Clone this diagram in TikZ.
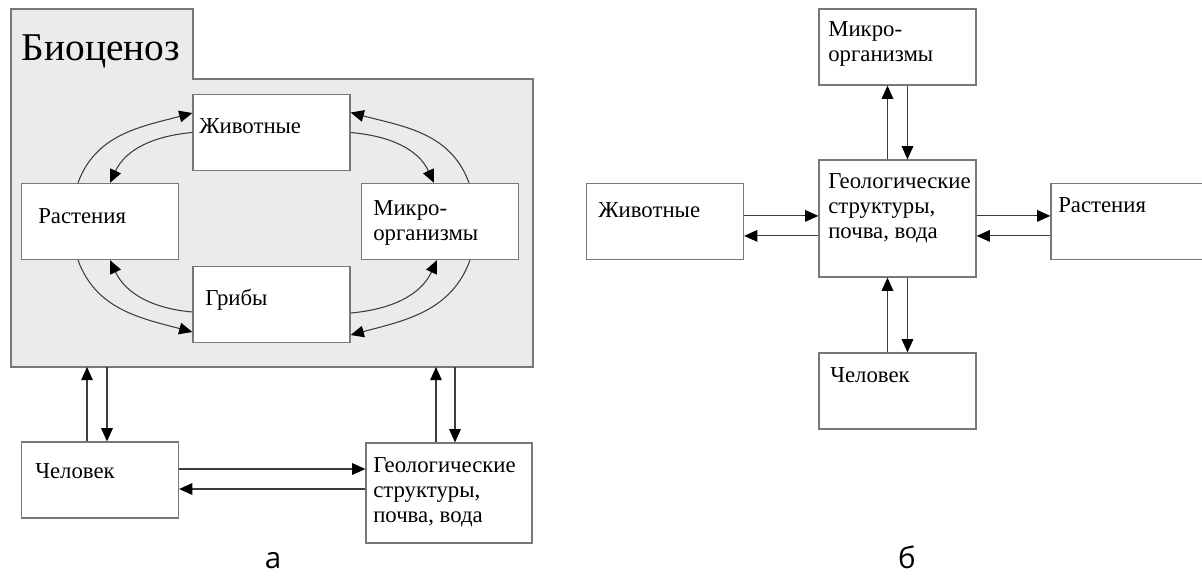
\documentclass[tikz,border=0pt]{standalone}
\usepackage{fontspec}
\setmainfont{Liberation Serif}
\newfontfamily\letterfont{Open Sans}
\usetikzlibrary{arrows.meta}
\definecolor{biogray}{RGB}{235,235,235}
\definecolor{framegray}{RGB}{120,120,120}
\definecolor{linkgray}{RGB}{60,60,60}
\newcommand{\boxfont}{\fontsize{16.2pt}{17.8pt}\selectfont}

\begin{document}
\begin{tikzpicture}[>={Triangle[length=3.3mm,width=2.9mm,color=black]}, line join=miter,
  blk/.style={draw=framegray,line width=0.9pt,fill=white,minimum width=3.925cm,minimum height=1.9cm,inner sep=0pt},
  txt/.style={font=\boxfont,inner sep=0pt,align=left},
  link/.style={->,linkgray,line width=0.75pt},
  sublbl/.style={font=\letterfont\fontsize{21pt}{23pt}\selectfont,anchor=base,inner sep=0pt}]

\useasboundingbox (0,0) rectangle (30.05,-14.4);

% ---------- a ----------
\draw[framegray,fill=biogray,line width=0.9pt]
  (0.275,-0.225) -- (4.825,-0.225) -- (4.825,-1.975) -- (13.325,-1.975)
  -- (13.325,-9.175) -- (0.275,-9.175) -- cycle;
\node[font=\fontsize{28pt}{30pt}\selectfont,anchor=base west,inner sep=0pt] (bioT) at (0.5375,-1.5) {Биоценоз};
\coordinate (bioS) at (6.8,-9.175);

\node[blk] (zhivL) at (6.7875,-3.3125) {};
\node[blk] (rastL) at (2.5,-5.5375) {};
\node[blk] (mikrL) at (11.0,-5.5375) {};
\node[blk] (gribL) at (6.7875,-7.6125) {};
\node[blk] (chelL) at (2.5,-12.0) {};
\node[blk,minimum width=4.15cm,minimum height=2.5cm] (geolL) at (11.225,-12.325) {};

\node[txt,anchor=base west] (zhivLT) at (4.975,-3.325) {Животные};
\node[txt,anchor=base west] (rastLT) at (0.95,-5.575) {Растения};
\node[txt,anchor=north west] (mikrLT) at (9.325,-5.0) {Микро-\\организмы};
\node[txt,anchor=base west] (gribLT) at (5.125,-7.625) {Грибы};
\node[txt,anchor=base west] (chelLT) at (0.875,-11.95) {Человек};
\node[txt,anchor=north west] (geolLT) at (9.325,-11.425) {Геологические\\структуры,\\почва, вода};

% cycle inside the biocenosis
\draw[link] ([xshift=-0.55cm]rastL.north) to[out=70,in=195] ([yshift=0.4875cm]zhivL.west);
\draw[link] (zhivL.west) to[out=185,in=65] ([xshift=0.25cm]rastL.north);
\draw[link] ([xshift=0.725cm]mikrL.north) to[out=110,in=-15] ([yshift=0.5cm]zhivL.east);
\draw[link] (zhivL.east) to[out=-5,in=115] ([xshift=-0.15cm]mikrL.north);
\draw[link] ([xshift=-0.55cm]rastL.south) to[out=-70,in=165] ([yshift=-0.6875cm]gribL.west);
\draw[link] ([yshift=-0.1875cm]gribL.west) to[out=175,in=-65] ([xshift=0.25cm]rastL.south);
\draw[link] ([xshift=0.75cm]mikrL.south) to[out=-110,in=15] ([yshift=-0.7625cm]gribL.east);
\draw[link] ([yshift=-0.2125cm]gribL.east) to[out=5,in=-115] ([xshift=-0.075cm]mikrL.south);

% links with the biocenosis
\draw[link] ([xshift=-0.325cm]chelL.north) -- ([xshift=-0.325cm]chelL.north |- bioS);
\draw[link] ([xshift=0.175cm]chelL.north |- bioS) -- ([xshift=0.175cm]chelL.north);
\draw[link] ([xshift=-0.325cm]geolL.north) -- ([xshift=-0.325cm]geolL.north |- bioS);
\draw[link] ([xshift=0.15cm]geolL.north |- bioS) -- ([xshift=0.15cm]geolL.north);
\draw[link] ([yshift=0.275cm]chelL.east) -- ([yshift=0.275cm]chelL.east -| geolL.west);
\draw[link] ([yshift=-0.225cm]chelL.east -| geolL.west) -- ([yshift=-0.225cm]chelL.east);

\node[sublbl] (capA) at (6.825,-14.2) {а};

% ---------- б ----------
\node[blk] (mikrR) at (22.4375,-1.175) {};
\node[blk,minimum height=2.925cm] (geolR) at (22.4375,-5.4625) {};
\node[blk] (zhivR) at (16.625,-5.5375) {};
\node[blk] (rastR) at (28.2375,-5.5375) {};
\node[blk] (chelR) at (22.4375,-9.775) {};

\node[txt,anchor=north west] (mikrRT) at (20.7,-0.525) {Микро-\\организмы};
\node[txt,anchor=north west] (geolRT) at (20.7,-4.325) {Геологические\\структуры,\\почва, вода};
\node[txt,anchor=base west] (zhivRT) at (14.95,-5.425) {Животные};
\node[txt,anchor=base west] (rastRT) at (26.45,-5.3) {Растения};
\node[txt,anchor=base west] (chelRT) at (20.75,-9.55) {Человек};

\draw[link] ([xshift=-0.25cm]geolR.north) -- ([xshift=-0.25cm]mikrR.south);
\draw[link] ([xshift=0.25cm]mikrR.south) -- ([xshift=0.25cm]geolR.north);
\draw[link] ([xshift=-0.25cm]chelR.north) -- ([xshift=-0.25cm]geolR.south);
\draw[link] ([xshift=0.25cm]geolR.south) -- ([xshift=0.25cm]chelR.north);
\draw[link] ([yshift=0.14cm]zhivR.east) -- ([yshift=0.14cm]zhivR.east -| geolR.west);
\draw[link] ([yshift=-0.36cm]zhivR.east -| geolR.west) -- ([yshift=-0.36cm]zhivR.east);
\draw[link] ([yshift=0.14cm]rastR.west -| geolR.east) -- ([yshift=0.14cm]rastR.west);
\draw[link] ([yshift=-0.36cm]rastR.west) -- ([yshift=-0.36cm]rastR.west -| geolR.east);

\node[sublbl] (capB) at (22.675,-14.2) {б};

\end{tikzpicture}
\end{document}
